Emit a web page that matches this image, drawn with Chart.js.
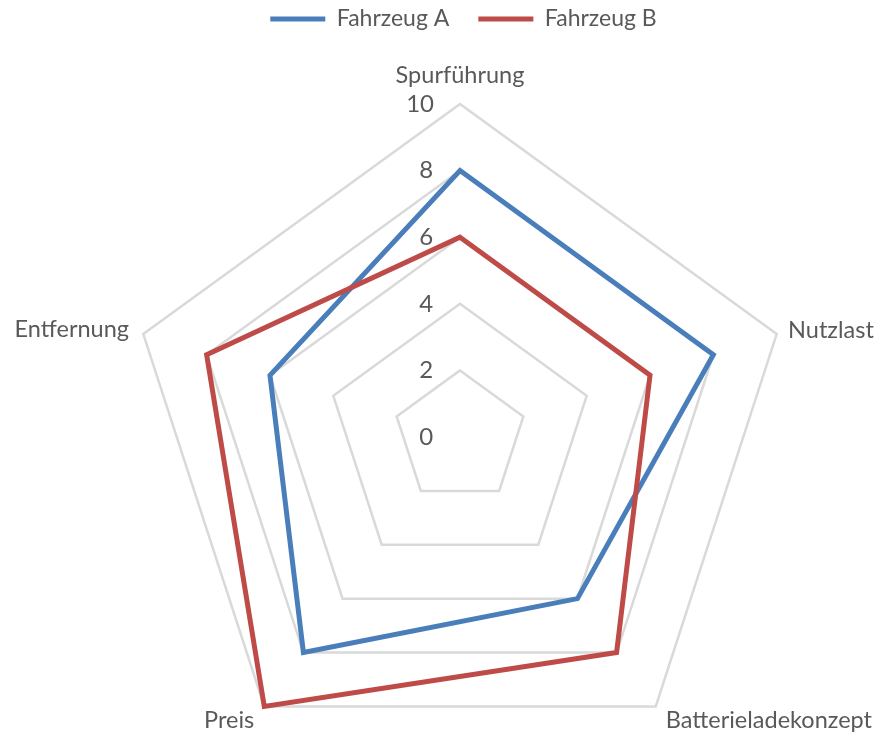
<!DOCTYPE html>
<html><head><meta charset="utf-8">
<script src="https://cdn.jsdelivr.net/npm/chart.js@4"></script>
<style>html,body{margin:0;padding:0;background:#fff}#wrap{width:880px;height:735px;position:relative}</style>
</head><body><div id="wrap"><canvas id="c"></canvas></div>
<script>
const categories = ['Spurführung', 'Nutzlast', 'Batterieladekonzept', 'Preis', 'Entfernung'];
const seriesNames = ['Fahrzeug A', 'Fahrzeug B'];
const fahrzeugA = [8, 8, 6, 8, 6];
const fahrzeugB = [6, 6, 8, 10, 8];
const tickMin = 0, tickMax = 10, tickStep = 2;

const FONT = 'Lato';
const TEXT = '#595959';
const BLUE = '#4A7EBB';
const RED = '#BE4B48';
const GRID = '#D9D9D9';
const TICK_SIZE = 24;

const mctx = document.createElement('canvas').getContext('2d');
mctx.font = TICK_SIZE + 'px ' + FONT;
function padTick(v) {
  const s = String(Math.round(v));
  const dw = mctx.measureText(s).width;
  const sw = mctx.measureText(' ').width;
  const n = Math.max(0, Math.round((dw + 52) / sw));
  return s + ' '.repeat(n);
}

const labelPad = [6, 0, 5, 5, 3];

new Chart(document.getElementById('c'), {
  type: 'radar',
  data: {
    labels: categories,
    datasets: [
      { label: seriesNames[0], data: fahrzeugA, borderColor: BLUE, backgroundColor: BLUE,
        borderWidth: 5, fill: false, pointRadius: 0, pointHoverRadius: 0, order: 1 },
      { label: seriesNames[1], data: fahrzeugB, borderColor: RED, backgroundColor: RED,
        borderWidth: 5, fill: false, pointRadius: 0, pointHoverRadius: 0, order: 0 }
    ]
  },
  options: {
    responsive: true,
    maintainAspectRatio: false,
    animation: false,
    layout: { padding: { left: 47, right: 0, top: -21.5, bottom: 0 } },
    plugins: {
      tooltip: { enabled: false },
      legend: {
        position: 'top',
        labels: {
          usePointStyle: true,
          pointStyle: 'line',
          pointStyleWidth: 55,
          padding: 29,
          color: TEXT,
          font: { family: FONT, size: 23 },
          sort: (a, b) => a.datasetIndex - b.datasetIndex
        }
      }
    },
    scales: {
      r: {
        min: tickMin - 1e-4,
        max: tickMax,
        afterSetDimensions: (scale) => {
          scale.xCenter = 460;
          scale.yCenter = 437;
          scale.drawingArea = 333;
          scale.left = -100;
          scale.right = 980;
        },
        angleLines: { display: false },
        grid: { color: (c) => c.index === 0 ? 'rgba(0,0,0,0)' : GRID, lineWidth: 2.5 },
        ticks: {
          stepSize: tickStep,
          showLabelBackdrop: false,
          backdropPadding: 0,
          color: TEXT,
          font: { family: FONT, size: TICK_SIZE },
          callback: (v) => padTick(v)
        },
        pointLabels: {
          color: TEXT,
          padding: (c) => labelPad[c.index],
          font: (c) => ({ family: FONT, size: 23.5, lineHeight: c.index === 0 ? '22px' : 0.01 })
        }
      }
    }
  }
});
</script>
</body></html>
